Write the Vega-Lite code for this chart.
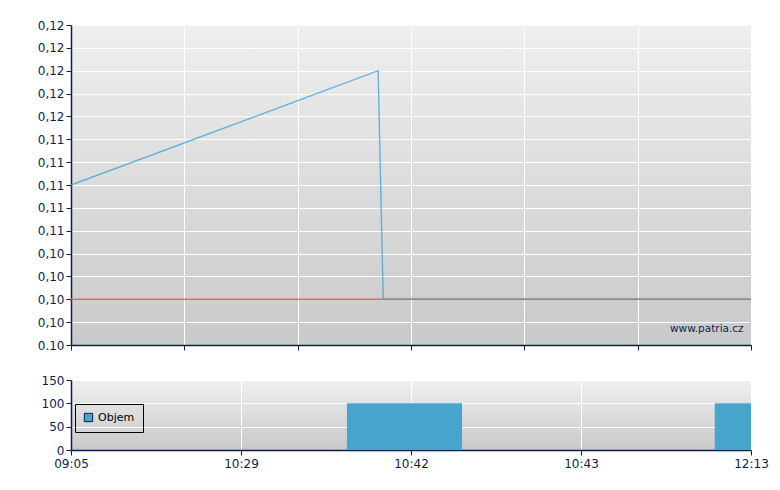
{
  "$schema": "https://vega.github.io/schema/vega-lite/v6.json",
  "background": "white",
  "padding": {"left": 37, "top": 19, "right": 5, "bottom": 5},
  "spacing": 23,
  "datasets": {
    "price": [
      {"i": 0, "price": 0.11},
      {"i": 5.42, "price": 0.12},
      {"i": 5.51, "price": 0.10},
      {"i": 12, "price": 0.10}
    ],
    "reference": [{"level": 0.1}],
    "watermark": [{"i": 11.87, "price": 0.0974, "label": "www.patria.cz"}],
    "volume": [
      {"start": 4.87, "end": 6.9, "volume": 100, "series": "Objem"},
      {"start": 11.36, "end": 12, "volume": 100, "series": "Objem"}
    ]
  },
  "config": {
    "font": "DejaVu Sans",
    "view": {
      "stroke": null,
      "fill": {"gradient": "linear", "x1": 0, "y1": 0, "x2": 0, "y2": 1, "stops": [{"offset": 0, "color": "#efefef"}, {"offset": 1, "color": "#c9c9c9"}]}
    },
    "axis": {
      "labelFont": "DejaVu Sans",
      "labelFontSize": 12,
      "labelColor": "#0a1f4f",
      "domainColor": "#0a1f4f",
      "tickColor": "#0a1f4f",
      "domainWidth": 1.5,
      "tickSize": 5,
      "gridColor": "#ffffff",
      "gridOpacity": 1,
      "gridWidth": 1,
      "labelOverlap": false,
      "title": null
    }
  },
  "vconcat": [
    {
      "width": 680,
      "height": 320,
      "encoding": {
        "x": {"field": "i", "type": "quantitative", "scale": {"domain": [0, 12], "nice": false, "zero": false},
          "axis": {"values": [0, 2, 4, 6, 8, 10, 12], "labels": false, "grid": true, "domain": true}},
        "y": {"field": "price", "type": "quantitative", "scale": {"domain": [0.096, 0.124], "nice": false, "zero": false},
          "axis": {"values": [0.096, 0.098, 0.1, 0.102, 0.104, 0.106, 0.108, 0.11, 0.112, 0.114, 0.116, 0.118, 0.12, 0.122, 0.124],
            "labelOverlap": false,
            "labelExpr": "datum.value < 0.097 ? '0.10' : replace(format(datum.value, '.2f'), '.', ',')", "grid": true}}
      },
      "layer": [
        {
          "data": {"name": "reference"},
          "mark": {"type": "rule", "color": "#de6e6e", "strokeWidth": 1.5},
          "encoding": {"x": null, "y": {"field": "level", "type": "quantitative"}}
        },
        {
          "data": {"name": "price"},
          "mark": {"type": "line", "color": "#3aa2d8", "strokeWidth": 1.4, "opacity": 0.75}
        },
        {
          "data": {"name": "watermark"},
          "mark": {"type": "text", "align": "right", "baseline": "middle", "font": "DejaVu Sans", "fontSize": 10.5, "color": "#0a1f4f"},
          "encoding": {
            "text": {"field": "label"}
          }
        }
      ]
    },
    {
      "width": 680,
      "height": 70,
      "data": {"name": "volume"},
      "mark": {"type": "rect", "clip": true},
      "encoding": {
        "x": {"field": "start", "type": "quantitative", "scale": {"domain": [0, 12], "nice": false, "zero": false},
          "axis": {"values": [0, 3, 6, 9, 12], "grid": true,
            "labelExpr": "datum.value == 0 ? '09:05' : datum.value == 3 ? '10:29' : datum.value == 6 ? '10:42' : datum.value == 9 ? '10:43' : '12:13'",
            "labelFlush": false, "labelPadding": 3}},
        "x2": {"field": "end"},
        "y": {"field": "volume", "type": "quantitative", "scale": {"domain": [0, 150], "nice": false},
          "axis": {"values": [0, 50, 100, 150], "grid": true}},
        "color": {"field": "series", "type": "nominal", "scale": {"range": ["#47a5cd"]},
          "legend": {"orient": "none", "legendX": 4, "legendY": 379, "title": null, "strokeColor": "#000000", "fillColor": null,
            "padding": 8, "symbolType": "square", "symbolSize": 70, "symbolStrokeColor": "#0a1f4f", "symbolStrokeWidth": 1,
            "labelFont": "DejaVu Sans", "labelFontSize": 11, "labelColor": "#000000"}}
      }
    }
  ]
}
